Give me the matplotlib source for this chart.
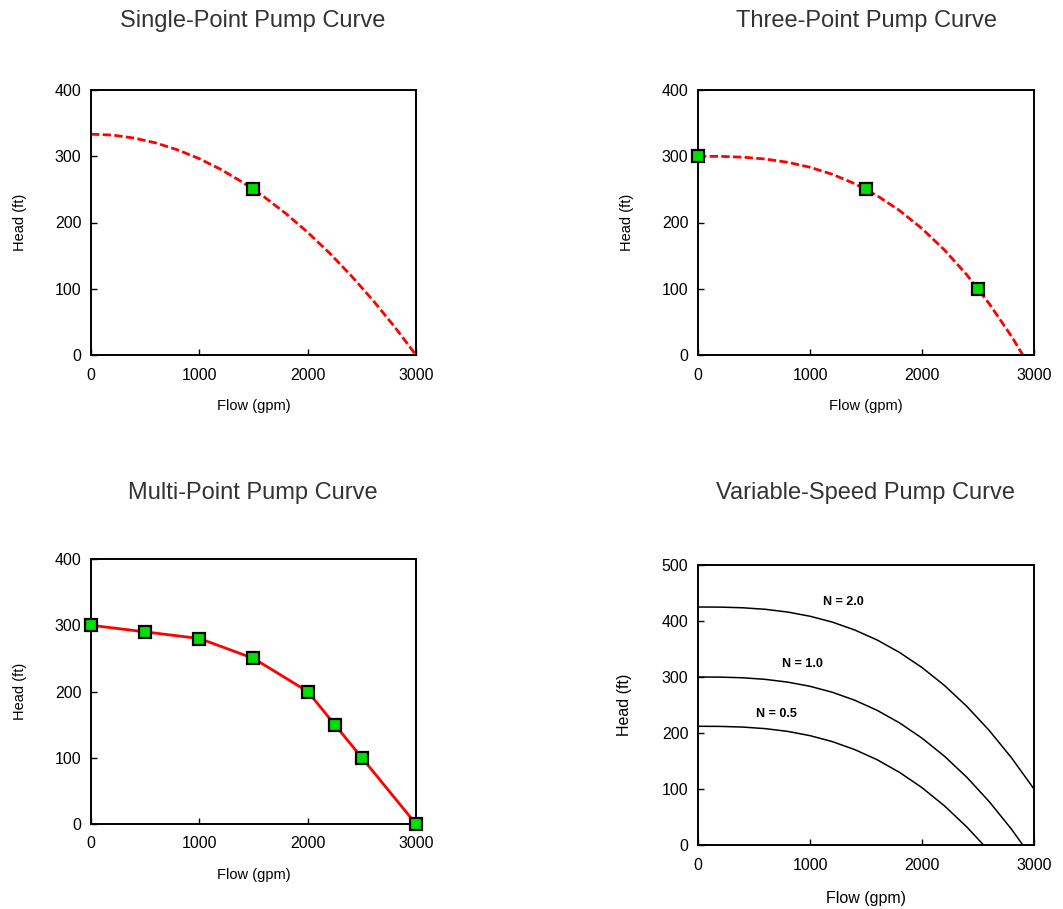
import matplotlib.pyplot as plt
import numpy as np

plt.rcParams['font.family'] = ['Liberation Sans', 'DejaVu Sans']

# --- data ---
# single-point curve
sp_flow = [0, 200, 400, 600, 800, 1000, 1200, 1400, 1600, 1800, 2000, 2200, 2400, 2600, 2800, 3000]
sp_head = [333.3, 331.9, 327.4, 320.0, 309.6, 296.3, 280.0, 260.7, 238.5, 213.3, 185.2, 154.1, 120.0, 83.0, 43.0, 0]
sp_pt_flow = [1500]
sp_pt_head = [250]

# three-point curve
tp_flow = [0, 200, 400, 600, 800, 1000, 1200, 1400, 1600, 1800, 2000, 2200, 2400, 2600, 2800, 2900]
tp_head = [300, 299.8, 298.6, 295.8, 290.9, 283.4, 272.7, 258.5, 240.4, 218.0, 190.8, 158.6, 121.0, 77.5, 28.0, 0]
tp_pt_flow = [0, 1500, 2500]
tp_pt_head = [300, 250, 100]

# multi-point curve
mp_flow = [0, 500, 1000, 1500, 2000, 2250, 2500, 3000]
mp_head = [300, 290, 280, 250, 200, 150, 100, 0]

# variable-speed curves
vs_flow_20 = [0, 200, 400, 600, 800, 1000, 1200, 1400, 1600, 1800, 2000, 2200, 2400, 2600, 2800, 3000]
vs_head_20 = [425, 424.8, 423.6, 420.9, 416.0, 408.5, 398.0, 383.9, 366.0, 343.8, 316.9, 285.0, 247.6, 204.6, 155.5, 100]
vs_flow_10 = tp_flow
vs_head_10 = tp_head
vs_flow_05 = [0, 200, 400, 600, 800, 1000, 1200, 1400, 1600, 1800, 2000, 2200, 2400, 2550]
vs_head_05 = [212, 211.8, 210.6, 207.8, 202.9, 195.3, 184.6, 170.3, 152.2, 129.6, 102.4, 70.0, 32.2, 0]
vs_labels = ['N = 2.0', 'N = 1.0', 'N = 0.5']
vs_label_xy = [(1300, 434), (935, 324), (700, 234)]

W, H = 1063, 909
fig = plt.figure(figsize=(W / 100, H / 100), dpi=100)


def px_axes(l, t, r, b):
    return fig.add_axes([l / W, 1 - b / H, (r - l) / W, (b - t) / H])


def style(ax, ymax, lab_size=10.5, tick_size=11.5, xpad=12, ypad=19.5):
    ax.set_xlim(0, 3000)
    ax.set_ylim(0, ymax)
    ax.set_xticks([0, 1000, 2000, 3000])
    ax.set_yticks(np.arange(0, ymax + 1, 100))
    ax.tick_params(direction='in', length=4, width=1, labelsize=tick_size,
                   top=False, right=False)
    ax.tick_params(axis='x', pad=9)
    ax.tick_params(axis='y', pad=7)
    for s in ax.spines.values():
        s.set_linewidth(1.4)
    ax.set_xlabel('Flow (gpm)', fontsize=lab_size, labelpad=xpad)
    ax.set_ylabel('Head (ft)', fontsize=lab_size, labelpad=ypad)


red = '#ff0000'
green = '#00e000'
mk = dict(marker='s', ms=8.5, mfc=green, mec='black', mew=1.6, ls='none', zorder=5, clip_on=False)
dash = (0, (3, 1.2))

# top-left
ax1 = px_axes(91, 90, 416, 355)
ax1.plot(sp_flow, sp_head, color=red, lw=2, ls=dash)
ax1.plot(sp_pt_flow, sp_pt_head, **mk)
style(ax1, 400)

# top-right
ax2 = px_axes(698, 90, 1034, 355)
ax2.plot(tp_flow, tp_head, color=red, lw=2, ls=dash)
ax2.plot(tp_pt_flow, tp_pt_head, **mk)
style(ax2, 400)

# bottom-left
ax3 = px_axes(91, 559, 416, 824)
ax3.plot(mp_flow, mp_head, color=red, lw=2)
ax3.plot(mp_flow, mp_head, **mk)
style(ax3, 400)

# bottom-right
ax4 = px_axes(698, 565, 1034, 845)
ax4.plot(vs_flow_20, vs_head_20, color='black', lw=1.1)
ax4.plot(vs_flow_10, vs_head_10, color='black', lw=1.1)
ax4.plot(vs_flow_05, vs_head_05, color='black', lw=1.1)
for txt, (x, y) in zip(vs_labels, vs_label_xy):
    ax4.text(x, y, txt, fontsize=9, fontweight='bold', ha='center', va='center')
style(ax4, 500, lab_size=11.5, tick_size=11.5, xpad=13.5, ypad=21.5)

# titles
tcol = '#333333'
tsize = 17
fig.text(253 / W, 1 - 21 / H, 'Single-Point Pump Curve', fontsize=tsize, color=tcol, ha='center', va='center')
fig.text(866 / W, 1 - 21 / H, 'Three-Point Pump Curve', fontsize=tsize, color=tcol, ha='center', va='center')
fig.text(253 / W, 1 - 493 / H, 'Multi-Point Pump Curve', fontsize=tsize, color=tcol, ha='center', va='center')
fig.text(866 / W, 1 - 493 / H, 'Variable-Speed Pump Curve', fontsize=tsize, color=tcol, ha='center', va='center')

fig.savefig('out.png', dpi=100)
